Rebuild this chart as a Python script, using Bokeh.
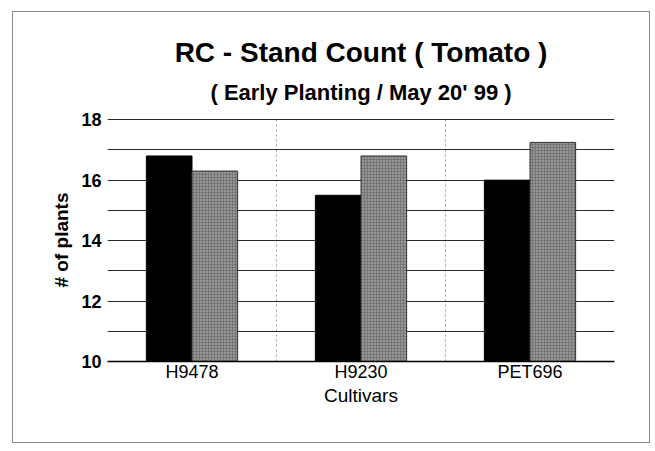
from bokeh.plotting import figure
from bokeh.models import Range1d, FixedTicker, Title, ColumnDataSource
from bokeh.embed import file_html
from bokeh.resources import INLINE

cultivars = ["H9478", "H9230", "PET696"]
series_black = [16.8, 15.5, 16.0]
series_gray = [16.3, 16.8, 17.25]
y_ticks = [10, 12, 14, 16, 18]
y_grid = [10, 11, 12, 13, 14, 15, 16, 17, 18]
title_text = "RC - Stand Count ( Tomato )"
subtitle_text = "( Early Planting / May 20' 99 )"

FONT = "Liberation Sans"
W, H = 638, 432
ML, MR, MT, MB = 94, 37, 106, 83
centers = [i + 0.5 for i in range(len(cultivars))]
bw = 0.27

p = figure(width=W, height=H, output_backend="svg", toolbar_location=None,
           x_range=Range1d(0, len(cultivars)), y_range=Range1d(10, 18.04),
           min_border_left=ML, min_border_right=MR, min_border_top=MT,
           min_border_bottom=MB)
p.styles = {"border": "1px solid #8a8a8a", "margin-left": "12px", "margin-top": "11px"}
p.outline_line_color = None
p.background_fill_color = "white"
p.border_fill_color = "white"

sub = Title(text=subtitle_text, align="center", vertical_align="top",
            text_font=FONT, text_font_size="22px", text_font_style="bold",
            text_color="black", standoff=24)
main = Title(text=title_text, align="center", vertical_align="bottom",
             text_font=FONT, text_font_size="28px", text_font_style="bold",
             text_color="black", standoff=0)
p.add_layout(sub, "above")
p.add_layout(main, "above")

src_b = ColumnDataSource(dict(x=[c - bw / 2 for c in centers], top=series_black))
src_g = ColumnDataSource(dict(x=[c + bw / 2 for c in centers], top=series_gray))
p.vbar(x="x", top="top", bottom=10, width=bw, source=src_b,
       fill_color="black", line_color="black", line_width=1)
p.vbar(x="x", top="top", bottom=10, width=bw, source=src_g,
       fill_color="#767676", line_color="#333333", line_width=1,
       hatch_pattern="dot", hatch_color="#c8c8c8", hatch_scale=3, hatch_weight=1)

# axes
for ax in (p.xaxis, p.yaxis):
    ax.major_tick_line_color = None
    ax.minor_tick_line_color = None
    ax.major_tick_out = 0
    ax.major_tick_in = 0
    ax.minor_tick_out = 0
    ax.minor_tick_in = 0

p.xaxis.ticker = FixedTicker(ticks=centers)
p.xaxis.major_label_overrides = {c: n for c, n in zip(centers, cultivars)}
p.xaxis.axis_label = "Cultivars"
p.xaxis.axis_label_text_font = FONT
p.xaxis.axis_label_text_font_size = "19px"
p.xaxis.axis_label_text_font_style = "normal"
p.xaxis.axis_label_text_color = "black"
p.xaxis.axis_label_standoff = 0
p.xaxis.major_label_text_font = FONT
p.xaxis.major_label_text_font_size = "18px"
p.xaxis.major_label_text_color = "black"
p.xaxis.major_label_standoff = 0
p.xaxis.axis_line_color = "black"
p.xaxis.axis_line_width = 1.5

p.yaxis.ticker = FixedTicker(ticks=y_ticks)
p.yaxis.axis_label = "# of plants"
p.yaxis.axis_label_text_font = FONT
p.yaxis.axis_label_text_font_size = "19px"
p.yaxis.axis_label_text_font_style = "bold"
p.yaxis.axis_label_text_color = "black"
p.yaxis.axis_label_standoff = 6
p.yaxis.major_label_text_font = FONT
p.yaxis.major_label_text_font_size = "18px"
p.yaxis.major_label_text_font_style = "bold"
p.yaxis.major_label_text_color = "black"
p.yaxis.major_label_standoff = 6
p.yaxis.axis_line_color = None

p.ygrid.ticker = FixedTicker(ticks=y_grid)
p.ygrid.grid_line_color = "#2a2a2a"
p.ygrid.grid_line_width = 1
p.xgrid.ticker = FixedTicker(ticks=[0, 1, 2, 3])
p.xgrid.grid_line_color = "#9a9a9a"
p.xgrid.grid_line_dash = "2 3"
p.xgrid.grid_line_width = 1

open("out.html", "w").write(file_html(p, INLINE))
